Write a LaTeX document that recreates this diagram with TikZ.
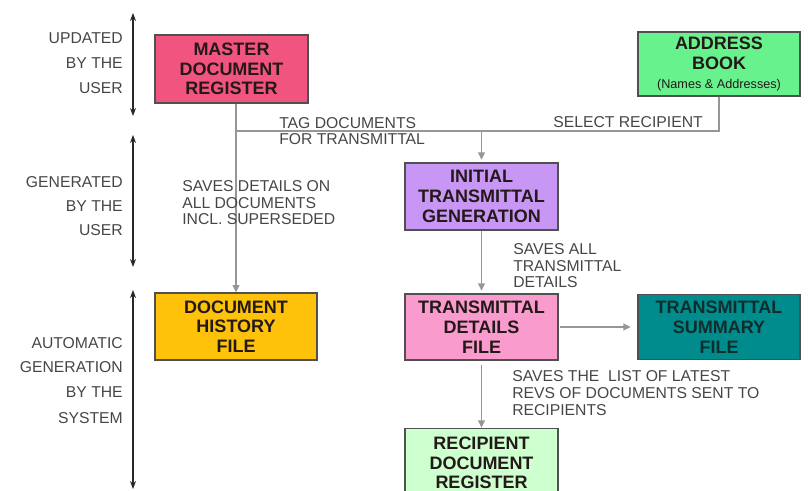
\documentclass[tikz,border=0pt]{standalone}
\usepackage{fontspec}
\setmainfont{Liberation Sans}
\usetikzlibrary{arrows.meta}
\definecolor{masterpink}{RGB}{242,84,128}
\definecolor{bookgreen}{RGB}{104,242,142}
\definecolor{initpurple}{RGB}{200,150,245}
\definecolor{histgold}{RGB}{255,194,10}
\definecolor{detailpink}{RGB}{250,155,205}
\definecolor{sumteal}{RGB}{0,140,140}
\definecolor{recipgreen}{RGB}{206,255,206}
\definecolor{boxline}{RGB}{80,80,80}
\definecolor{boxtext}{RGB}{35,25,25}
\definecolor{connline}{RGB}{150,150,150}
\definecolor{spanline}{RGB}{40,40,40}
\definecolor{notetext}{RGB}{70,70,70}
\begin{document}
\begin{tikzpicture}[x=0.75pt,y=-0.75pt,
    box/.style={draw=boxline, line width=0.8pt, align=center, inner sep=0pt,
        text=boxtext, font=\fontsize{13.5}{14.8}\selectfont\bfseries},
    conn/.style={draw=connline, line width=1.1pt},
    arr/.style={conn, -{Triangle[length=5.5pt,width=5pt]}},
    note/.style={align=left, inner sep=0pt, text=notetext,
        font=\fontsize{11.8}{12.4}\selectfont},
    side/.style={anchor=east, inner sep=0pt, text=notetext,
        font=\fontsize{11.8}{12.4}\selectfont},
    span/.style={draw=spanline, line width=1.1pt,
        {Stealth[length=6pt,width=4.5pt]}-{Stealth[length=6pt,width=4.5pt]}}]
    \useasboundingbox (0,0) rectangle (810,491);

    % Left-hand phases
    \foreach \a/\b in {13/116, 135/267, 290/489} {
        \draw[span] (133,\a) -- (133,\b);
    }
    \foreach \txt/\y in {UPDATED/38, BY THE/63, USER/88,
                         GENERATED/182, BY THE/206, USER/230,
                         AUTOMATIC/343, GENERATION/367, BY THE/392, SYSTEM/418} {
        \node[side] (side\y) at (123,\y) {\txt};
    }

    % Boxes
    \node[box, fill=masterpink, minimum width=114.75pt, minimum height=51pt]
        (master) at (231.5,69) {MASTER\\DOCUMENT\\REGISTER};
    \node[box, fill=bookgreen, minimum width=121.5pt, minimum height=48pt]
        (address) at (719,64) {ADDRESS\\BOOK\\[-1pt]{\fontsize{9.5}{11}\selectfont\mdseries (Names \& Addresses)}};
    \node[box, fill=initpurple, minimum width=114.75pt, minimum height=50.25pt]
        (init) at (481.5,196.5) {INITIAL\\TRANSMITTAL\\GENERATION};
    \node[box, fill=histgold, minimum width=121.5pt, minimum height=50.25pt]
        (dhf) at (236,326.5) {DOCUMENT\\HISTORY\\FILE};
    \node[box, fill=detailpink, minimum width=114.75pt, minimum height=49.5pt]
        (tdf) at (481.5,327) {TRANSMITTAL\\DETAILS\\FILE};
    \node[box, fill=sumteal, text={rgb,255:red,15;green,45;blue,45}, minimum width=121.5pt, minimum height=48.75pt]
        (summary) at (719,327) {TRANSMITTAL\\SUMMARY\\FILE};
    \node[box, fill=recipgreen, minimum width=114.75pt, minimum height=52pt]
        (recip) at (481.5,463) {RECIPIENT\\DOCUMENT\\REGISTER};

    % Connectors
    \coordinate (tag) at (481.5,131);
    \draw[conn] (address.south) |- (dhf.north |- tag);
    \draw[arr] (dhf.north |- master.south) -- (dhf.north);
    \draw[arr, shorten >=2pt] (tag) -- (init.north);
    \draw[arr, shorten >=2pt] (init) -- (tdf);
    \draw[arr, shorten <=1pt, shorten >=5pt] (tdf) -- (summary);
    \draw[arr, shorten <=3pt] (tdf) -- (recip);

    % Connector notes (base = last line)
    \node[note, anchor=base west] (tagnote) at (279,145) {TAG DOCUMENTS\\FOR TRANSMITTAL};
    \node[note, anchor=base west] (selnote) at (553,128) {SELECT RECIPIENT};
    \node[note, anchor=base west] (histnote) at (182,225) {SAVES DETAILS ON\\ALL DOCUMENTS\\INCL. SUPERSEDED};
    \node[note, anchor=base west] (allnote) at (513,288) {SAVES ALL\\TRANSMITTAL\\DETAILS};
    \node[note, anchor=base west] (listnote) at (512,415) {SAVES THE\ \ LIST OF LATEST\\REVS OF DOCUMENTS SENT TO\\RECIPIENTS};
\end{tikzpicture}
\end{document}
